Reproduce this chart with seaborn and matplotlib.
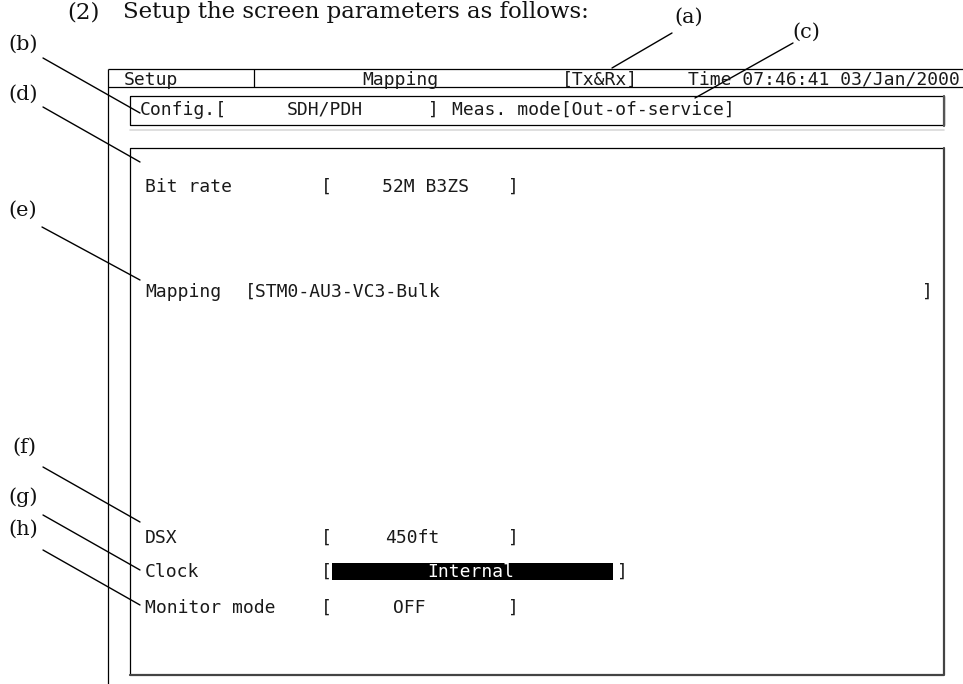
import matplotlib
matplotlib.use("Agg")
import matplotlib.pyplot as plt
import matplotlib.patches as mpatches
import seaborn as sns
import pandas as pd

# ---------------- content ----------------
title_number = "(2)"
title_text = "Setup the screen parameters as follows:"

header_items = ["Setup", "Mapping", "[Tx&Rx]", "Time 07:46:41 03/Jan/2000"]

config_label = "Config.["
config_value = "SDH/PDH"
meas_text = "Meas. mode[Out-of-service]"

field_names = ["Bit rate", "Mapping", "DSX", "Clock", "Monitor mode"]
field_values = ["52M B3ZS", "STM0-AU3-VC3-Bulk", "450ft", "Internal", "OFF"]
selected_field = "Clock"

callout_labels = ["(a)", "(b)", "(c)", "(d)", "(e)", "(f)", "(g)", "(h)"]

# ---------------- layout (pixels, y downward) ----------------
W, H = 963, 684
label_pos = {"(a)": (689, 17), "(b)": (23, 44), "(c)": (806, 32), "(d)": (23, 94),
             "(e)": (23, 210), "(f)": (24, 447), "(g)": (23, 497), "(h)": (23, 529)}
leader_from = {"(a)": (672, 33), "(b)": (43, 58), "(c)": (793, 43), "(d)": (43, 107),
               "(e)": (42, 227), "(f)": (43, 467), "(g)": (43, 515), "(h)": (43, 550)}
leader_to = {"(a)": (612, 68), "(b)": (140, 113), "(c)": (695, 98), "(d)": (140, 162),
             "(e)": (140, 280), "(f)": (140, 522), "(g)": (140, 570), "(h)": (140, 605)}

header_x = [124, 362, 562, 688]
header_base = 85
row_base = {"Bit rate": 192, "Mapping": 297, "DSX": 543, "Clock": 577, "Monitor mode": 613}
value_x = {"Bit rate": 382, "Mapping": 245, "DSX": 385, "Clock": 471, "Monitor mode": 393}
close_x = {"Bit rate": 508, "Mapping": 922, "DSX": 508, "Clock": 617, "Monitor mode": 508}

MONO = "DejaVu Sans Mono"
SERIF = "DejaVu Serif"
TXT = "#1a1a1a"
FS = 13

sns.set_theme(style="white")
fig = plt.figure(figsize=(W / 100, H / 100), dpi=100)
ax = fig.add_axes([0, 0, 1, 1])

# callout labels and leader lines
rows = []
for lab in callout_labels:
    (x0, y0), (x1, y1) = leader_from[lab], leader_to[lab]
    rows.append({"label": lab, "x": x0, "y": y0})
    rows.append({"label": lab, "x": x1, "y": y1})
lead = pd.DataFrame(rows)
sns.lineplot(data=lead, x="x", y="y", units="label", estimator=None, sort=False,
             color="black", linewidth=1.0, ax=ax, legend=False)
ax.set_xlim(0, W)
ax.set_ylim(H, 0)
ax.axis("off")

for lab in callout_labels:
    x, y = label_pos[lab]
    ax.text(x, y, lab, fontsize=15, family=SERIF, color="#111", ha="center", va="center")

# title
ax.text(67, 18, title_number, fontsize=16.5, family=SERIF, color="#111", va="baseline")
ax.text(123, 18, title_text, fontsize=16.5, family=SERIF, color="#111", va="baseline")

# screen frame lines
line_kw = dict(color="black", linewidth=0.9, solid_capstyle="butt")
ax.plot([108, W], [69, 69], **line_kw)
ax.plot([108, W], [87, 87], **line_kw)
ax.plot([108, 108], [69, H], **line_kw)
ax.plot([254, 254], [69, 87], **line_kw)

# header text
for x, t in zip(header_x, header_items):
    ax.text(x, header_base, t, fontsize=FS, family=MONO, color=TXT, va="baseline")

# config box
ax.plot([130, 944, 944, 130, 130], [96, 96, 125, 125, 96], **line_kw)
ax.plot([944, 944], [96, 126], color="#555", linewidth=1.6)
ax.plot([130, 944], [130, 130], color="#d9d9d9", linewidth=1.2)
ax.text(140, 115, config_label, fontsize=FS, family=MONO, color=TXT, va="baseline")
ax.text(287, 115, config_value, fontsize=FS, family=MONO, color=TXT, va="baseline")
ax.text(428, 115, "]", fontsize=FS, family=MONO, color=TXT, va="baseline")
ax.text(452, 115, meas_text, fontsize=FS, family=MONO, color=TXT, va="baseline")

# main box
ax.plot([944, 130, 130], [148, 148, 675], **line_kw)
ax.plot([944, 944, 130], [148, 675, 675], color="#444", linewidth=1.6)

# fields
for name, val in zip(field_names, field_values):
    yb = row_base[name]
    ax.text(145, yb, name, fontsize=FS, family=MONO, color=TXT, va="baseline")
    if name == "Mapping":
        ax.text(value_x[name], yb, "[" + val, fontsize=FS, family=MONO, color=TXT, va="baseline")
    elif name == selected_field:
        ax.text(321, yb, "[", fontsize=FS, family=MONO, color=TXT, va="baseline")
        ax.add_patch(mpatches.Rectangle((332, 563), 613 - 332, 580 - 563,
                                        facecolor="black", edgecolor="none"))
        ax.text(value_x[name], yb, val, fontsize=FS, family=MONO, color="white",
                ha="center", va="baseline")
    else:
        ax.text(321, yb, "[", fontsize=FS, family=MONO, color=TXT, va="baseline")
        ax.text(value_x[name], yb, val, fontsize=FS, family=MONO, color=TXT, va="baseline")
    ax.text(close_x[name], yb, "]", fontsize=FS, family=MONO, color=TXT, va="baseline")

fig.savefig("out.png", dpi=100)
